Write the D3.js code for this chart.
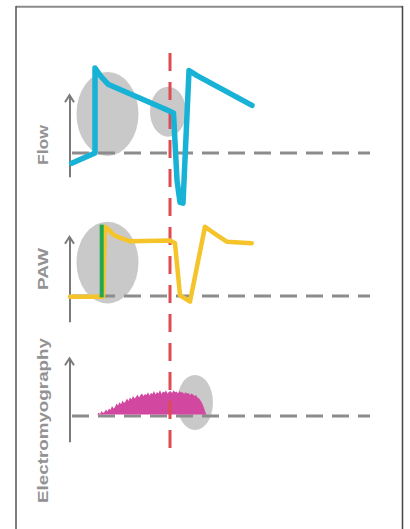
<!DOCTYPE html>
<html>
<head>
<meta charset="utf-8">
<script src="https://cdn.jsdelivr.net/npm/d3@7"></script>
<style>
  html, body { margin: 0; padding: 0; background: #fff; }
  svg { display: block; }
</style>
</head>
<body>
<div id="chart"></div>
<script>
// ---- data (time in s, normalised signal values) ----
const panelLabels = ["Flow", "PAW", "Electromyography"];

const flowT = [0.017, 0.25, 0.25, 0.31, 0.38, 1.0, 1.035, 1.07, 1.10, 1.13, 1.19, 1.27, 1.82];
const flowV = [-0.12, 0.0, 1.0, 0.90, 0.81, 0.49, 0.47, -0.32, -0.58, -0.59, 0.97, 0.91, 0.56];

const pawT = [0.0, 0.33, 0.35, 0.39, 0.43, 0.47, 0.6, 1.0, 1.05, 1.10, 1.20, 1.35, 1.417, 1.567, 1.817];
const pawV = [-0.01, -0.01, 1.0, 0.95, 0.89, 0.856, 0.79, 0.80, 0.76, 0.01, -0.08, 1.0, 0.93, 0.784, 0.76];

const triggerT = 0.317;            // green trigger marker (PAW)
const triggerV = [-0.02, 1.03];

const emgT = [0.27,0.285,0.30,0.315,0.33,0.345,0.36,0.375,0.39,0.405,0.42,0.435,0.45,0.465,0.48,0.495,0.51,0.525,0.54,0.555,0.57,0.585,0.60,0.615,0.63,0.645,0.66,0.675,0.69,0.705,0.72,0.735,0.75,0.765,0.78,0.795,0.81,0.825,0.84,0.855,0.87,0.885,0.90,0.915,0.93,0.945,0.96,0.975,0.99,1.005,1.02,1.035,1.05,1.065,1.08,1.095,1.11,1.125,1.14,1.155,1.17,1.185,1.20,1.215,1.23,1.245,1.26,1.275,1.29,1.305,1.32,1.335,1.35,1.365];
const emgV = [0.03,0.14,0.08,0.20,0.12,0.16,0.26,0.18,0.30,0.24,0.40,0.30,0.36,0.50,0.42,0.55,0.47,0.62,0.52,0.58,0.70,0.60,0.74,0.66,0.80,0.70,0.76,0.86,0.74,0.84,0.90,0.80,0.88,0.84,0.95,0.82,0.92,0.88,1.00,0.86,0.96,0.90,1.04,0.88,0.98,0.94,1.02,0.90,0.97,1.00,0.92,1.03,0.95,0.98,0.90,1.00,0.94,0.96,0.88,0.95,0.90,0.92,0.84,0.90,0.86,0.80,0.84,0.74,0.70,0.62,0.52,0.38,0.20,0.03];

const cycleMarkT = 1.0;            // red dashed vertical line

// highlight ellipses: [t centre, v centre, t radius, v radius]
const flowHighlights = [[0.375, 0.46, 0.31, 0.494], [0.98, 0.486, 0.18, 0.294]];
const pawHighlights = [[0.375, 0.483, 0.31, 0.59]];
const emgHighlights = [[1.25, 0.54, 0.18, 1.1]];

// ---- layout ----
const W = 410, H = 529;
const svg = d3.select("#chart").append("svg").attr("width", W).attr("height", H);
svg.append("rect").attr("width", W).attr("height", H).attr("fill", "#fff");

// frame
svg.append("line").attr("x1", 16).attr("x2", 403).attr("y1", 6.8).attr("y2", 6.8)
  .attr("stroke", "#8a8a8a").attr("stroke-width", 2);
svg.append("line").attr("x1", 16).attr("x2", 16).attr("y1", 6).attr("y2", H)
  .attr("stroke", "#555").attr("stroke-width", 1.5);
svg.append("line").attr("x1", 402.5).attr("x2", 402.5).attr("y1", 6).attr("y2", H)
  .attr("stroke", "#444").attr("stroke-width", 1.5);

const x = d3.scaleLinear().domain([0, 3]).range([70, 370]);

const panels = [
  { label: panelLabels[0], y: d3.scaleLinear().domain([0, 1]).range([153, 68]), axis: [-0.28, 0.68], hl: flowHighlights, labelY: 145, labelLen: 40 },
  { label: panelLabels[1], y: d3.scaleLinear().domain([0, 1]).range([296, 226.7]), axis: [-0.37, 0.855], hl: pawHighlights, labelY: 269, labelLen: 42 },
  { label: panelLabels[2], y: d3.scaleLinear().domain([0, 1]).range([416, 391]), axis: [-1.03, 2.31], hl: emgHighlights, labelY: 420.5, labelLen: 165 }
];

const gEll = svg.append("g");
const gBase = svg.append("g");
const gAxis = svg.append("g");
const gData = svg.append("g");

panels.forEach(p => {
  gEll.selectAll(null).data(p.hl).enter().append("ellipse")
    .attr("cx", d => x(d[0]))
    .attr("cy", d => p.y(d[1]))
    .attr("rx", d => x(d[2]) - x(0))
    .attr("ry", d => p.y(0) - p.y(d[3]))
    .attr("fill", "#c9c9c9");

  gBase.append("line")
    .attr("x1", x(0.02)).attr("x2", x(3.0))
    .attr("y1", p.y(0)).attr("y2", p.y(0))
    .attr("stroke", "#8c8c8c").attr("stroke-width", 3)
    .attr("stroke-dasharray", "17,9");

  const axScale = p.y.copy().domain(p.axis).range([p.y(p.axis[0]), p.y(p.axis[1])]);
  const ax = gAxis.append("g").attr("transform", "translate(69.5,0)")
    .call(d3.axisLeft(axScale).tickValues([]).tickSizeOuter(0));
  ax.select(".domain").attr("stroke", "#7a7a7a").attr("stroke-width", 2);
  const tipY = axScale(p.axis[1]);
  ax.append("path")
    .attr("d", `M-4.5,${tipY + 7}L0,${tipY}L4.5,${tipY + 7}`)
    .attr("fill", "none").attr("stroke", "#7a7a7a").attr("stroke-width", 2);

  svg.append("text")
    .attr("transform", `translate(48,${p.labelY}) rotate(-90)`)
    .attr("text-anchor", "middle")
    .attr("font-family", "Liberation Sans, Arial, sans-serif")
    .attr("font-size", 14)
    .attr("font-weight", "bold")
    .attr("fill", "#939393")
    .attr("textLength", p.labelLen)
    .attr("lengthAdjust", "spacingAndGlyphs")
    .text(p.label);
});

// EMG area
const emgData = emgT.map((t, i) => ({ t, v: emgV[i] }));
gData.append("path").datum(emgData)
  .attr("d", d3.area().x(d => x(d.t)).y0(panels[2].y(0.06)).y1(d => panels[2].y(d.v)))
  .attr("fill", "#d2479f");

// red dashed marker
gData.append("line")
  .attr("x1", x(cycleMarkT)).attr("x2", x(cycleMarkT))
  .attr("y1", 53).attr("y2", 459)
  .attr("stroke", "#e04a52").attr("stroke-width", 3)
  .attr("stroke-dasharray", "18,11");

// flow line
const flowData = flowT.map((t, i) => ({ t, v: flowV[i] }));
gData.append("path").datum(flowData)
  .attr("d", d3.line().x(d => x(d.t)).y(d => panels[0].y(d.v)))
  .attr("fill", "none").attr("stroke", "#18b2d6").attr("stroke-width", 5.5)
  .attr("stroke-linejoin", "round").attr("stroke-linecap", "round");

// PAW line
const pawData = pawT.map((t, i) => ({ t, v: pawV[i] }));
gData.append("path").datum(pawData)
  .attr("d", d3.line().curve(d3.curveLinear).x(d => x(d.t)).y(d => panels[1].y(d.v)))
  .attr("fill", "none").attr("stroke", "#f5c42a").attr("stroke-width", 4.5)
  .attr("stroke-linejoin", "round").attr("stroke-linecap", "round");

// trigger marker
gData.append("line")
  .attr("x1", x(triggerT)).attr("x2", x(triggerT))
  .attr("y1", panels[1].y(triggerV[0])).attr("y2", panels[1].y(triggerV[1]))
  .attr("stroke", "#1fa84f").attr("stroke-width", 4);
</script>
</body>
</html>
